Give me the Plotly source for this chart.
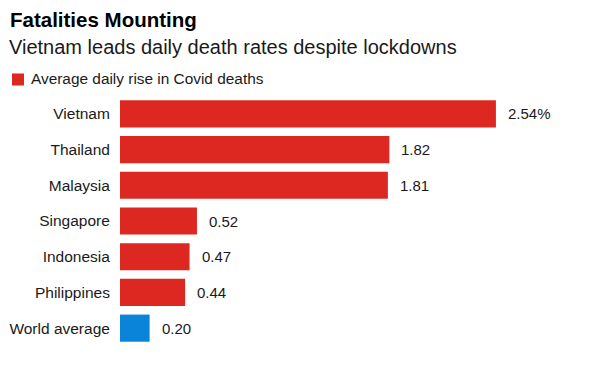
import plotly.graph_objects as go

countries = ["Vietnam", "Thailand", "Malaysia", "Singapore", "Indonesia", "Philippines", "World average"]
values = [2.54, 1.82, 1.81, 0.52, 0.47, 0.44, 0.20]
labels = ["2.54%", "1.82", "1.81", "0.52", "0.47", "0.44", "0.20"]
RED = "#dc2820"
BLUE = "#0a84d8"
colors = [RED] * 6 + [BLUE]
FONT = "Liberation Sans, Arial, sans-serif"
TXT = "#1a1a1a"

W, H = 601, 372
ML, MR, MT, MB = 120, 0, 96, 26
PW, PH = W - ML - MR, H - MT - MB


def px(x):
    return (x - ML) / PW


def py(y):
    return (H - MB - y) / PH


fig = go.Figure(go.Bar(
    x=values, y=countries, orientation="h",
    marker=dict(color=colors, line=dict(width=0)),
    width=0.76, hoverinfo="skip",
))

for c, v, t in zip(countries, values, labels):
    fig.add_annotation(x=v, y=c, text=t, showarrow=False, xanchor="left",
                       xshift=10, font=dict(size=15, color=TXT, family=FONT))

fig.add_annotation(x=px(8), y=py(20), xref="paper", yref="paper", text="<b>Fatalities Mounting</b>",
                   showarrow=False, xanchor="left", yanchor="middle",
                   font=dict(size=20.5, color="#000", family=FONT))
fig.add_annotation(x=px(7), y=py(47), xref="paper", yref="paper",
                   text="Vietnam leads daily death rates despite lockdowns",
                   showarrow=False, xanchor="left", yanchor="middle",
                   font=dict(size=20, color=TXT, family=FONT))
fig.add_annotation(x=px(29), y=py(79), xref="paper", yref="paper",
                   text="Average daily rise in Covid deaths",
                   showarrow=False, xanchor="left", yanchor="middle",
                   font=dict(size=15.4, color=TXT, family=FONT))
fig.add_shape(type="rect", xref="paper", yref="paper",
              x0=px(12), x1=px(24), y0=py(73.5), y1=py(85.5),
              fillcolor=RED, line=dict(width=0))

fig.update_layout(
    width=W, height=H,
    margin=dict(l=ML, r=MR, t=MT, b=MB, autoexpand=False),
    paper_bgcolor="white", plot_bgcolor="white",
    showlegend=False,
    xaxis=dict(range=[0, 3.25], visible=False, fixedrange=True, automargin=False),
    yaxis=dict(autorange="reversed", showgrid=False, zeroline=False, showline=False,
               automargin=False, fixedrange=True,
               ticks="outside", ticklen=6, tickcolor="rgba(0,0,0,0)",
               tickfont=dict(size=15.5, color=TXT, family=FONT)),
    font=dict(family=FONT),
)

fig.write_html("out.html", config={"displayModeBar": False},
               post_script="document.body.style.margin='0';")
